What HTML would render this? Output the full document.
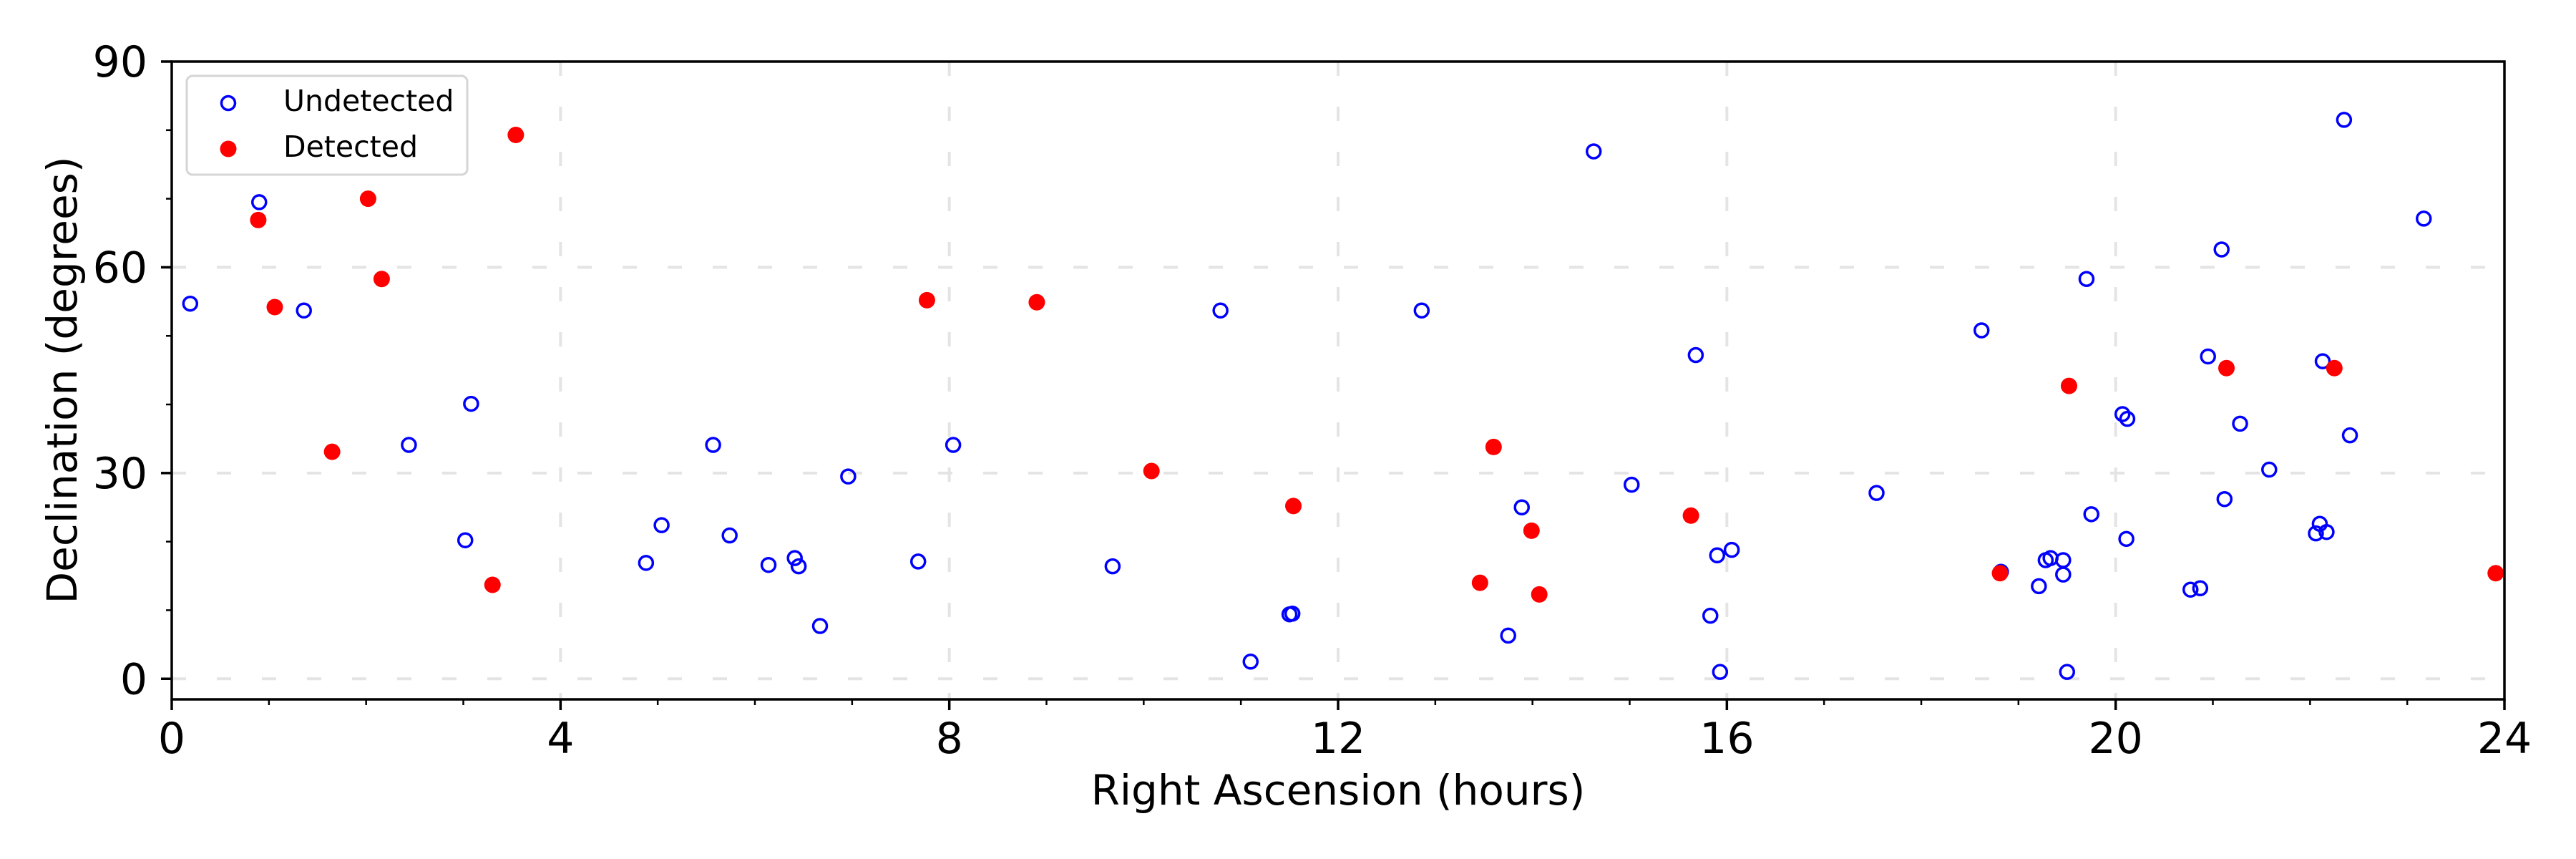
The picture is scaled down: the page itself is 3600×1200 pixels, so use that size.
<!DOCTYPE html>
<html><head><meta charset="utf-8"><style>
html,body{margin:0;padding:0;background:#fff;}
svg{display:block;font-family:"DejaVu Sans","Liberation Sans",sans-serif;}
</style></head><body>
<svg id="chart" width="3600" height="1200" viewBox="0 0 3600 1200" xmlns="http://www.w3.org/2000/svg">
<rect x="0" y="0" width="3600" height="1200" fill="#fff"/>
<g id="grid"></g>
<g id="points"></g>
<g id="axes"></g>
<text x="1870" y="1124" font-size="58" text-anchor="middle">Right Ascension (hours)</text>
<text transform="translate(107,531) rotate(-90)" font-size="58" text-anchor="middle">Declination (degrees)</text>
<g>
<rect x="261" y="106" width="392" height="138" rx="8" fill="#fff" fill-opacity="0.8" stroke="#d5d5d5" stroke-width="3"/>
<circle cx="319" cy="144" r="9.5" fill="none" stroke="#0000ff" stroke-width="3.5"/>
<text x="396" y="155" font-size="41">Undetected</text>
<circle cx="319" cy="208" r="11.5" fill="#ff0000"/>
<text x="396" y="219" font-size="41">Detected</text>
</g>
</svg>
<script>
const undetectedRA = [0.19,0.90,1.36,2.44,3.08,3.02,4.88,5.04,5.57,5.74,6.14,6.41,6.45,6.67,6.96,7.68,8.04,9.68,10.79,11.10,11.50,11.53,12.86,13.75,13.89,14.63,15.02,15.68,15.83,15.90,15.93,16.05,17.54,18.62,18.82,19.21,19.28,19.33,19.46,19.46,19.50,19.70,19.75,20.07,20.12,20.11,20.77,20.87,20.95,21.09,21.12,21.28,21.58,22.06,22.10,22.13,22.17,22.35,22.41,23.17];
const undetectedDec = [54.7,69.5,53.7,34.1,40.1,20.2,16.9,22.4,34.1,20.9,16.6,17.6,16.4,7.7,29.5,17.1,34.1,16.4,53.7,2.5,9.4,9.5,53.7,6.3,25.0,76.9,28.3,47.2,9.2,18.0,1.0,18.8,27.1,50.8,15.6,13.5,17.3,17.6,17.3,15.2,1.0,58.3,24.0,38.6,37.9,20.4,13.0,13.2,47.0,62.6,26.2,37.2,30.5,21.2,22.6,46.3,21.4,81.5,35.5,67.1];
const detectedRA = [0.89,1.06,1.65,2.02,2.16,3.30,3.54,7.77,8.90,10.08,11.54,13.46,13.60,13.99,14.07,15.63,18.81,19.52,21.14,22.25,23.91];
const detectedDec = [66.9,54.2,33.1,70.0,58.3,13.7,79.3,55.2,54.9,30.3,25.2,14.0,33.8,21.6,12.3,23.8,15.4,42.7,45.3,45.3,15.4];
const xMajorTicks = [0,4,8,12,16,20,24];
const xMinorTicks = [1,2,3,5,6,7,9,10,11,13,14,15,17,18,19,21,22,23];
const yMajorTicks = [0,30,60,90];
const yMinorTicks = [10,20,40,50,70,80];

const NS = "http://www.w3.org/2000/svg";
const L=240,R=3500,T=86,B=977;
const xMin=0,xMax=24,yMin=-3,yMax=90;
function xs(v){return L+(v-xMin)/(xMax-xMin)*(R-L);}
function ys(v){return B-(v-yMin)/(yMax-yMin)*(B-T);}
function mk(tag,attrs,parent){const e=document.createElementNS(NS,tag);for(const k in attrs)e.setAttribute(k,attrs[k]);parent.appendChild(e);return e;}

const grid=document.getElementById('grid');
xMajorTicks.forEach(v=>{
  if(v===xMin||v===xMax) return;
  const l=mk('line',{x1:xs(v),x2:xs(v),y1:T,y2:B,stroke:'#e4e4e4','stroke-width':4,'stroke-dasharray':'20 43'},grid);
  
  
});
yMajorTicks.forEach(v=>{
  if(v===yMax) return;
  const l=mk('line',{x1:L,x2:R,y1:ys(v),y2:ys(v),stroke:'#e4e4e4','stroke-width':4,'stroke-dasharray':'20 43'},grid);
  
  
});

const pts=document.getElementById('points');
undetectedRA.forEach((ra,i)=>{
  const c=mk('circle',{cx:xs(ra),cy:ys(undetectedDec[i]),r:9.5,fill:'none',stroke:'#0000ff','stroke-width':3.5},pts);
  
  
});
detectedRA.forEach((ra,i)=>{
  const c=mk('circle',{cx:xs(ra),cy:ys(detectedDec[i]),r:11.5,fill:'#ff0000'},pts);
  
  
});

const ax=document.getElementById('axes');
const frame=mk('rect',{x:L,y:T,width:R-L,height:B-T,fill:'none',stroke:'#000','stroke-width':3.5},ax);


xMajorTicks.forEach(v=>{
  const t=mk('line',{x1:xs(v),x2:xs(v),y1:B,y2:B+15,stroke:'#000','stroke-width':3.5},ax);
  
  
  const tx=mk('text',{x:xs(v),y:1052,'font-size':60,'text-anchor':'middle'},ax);
  tx.textContent=String(v);
  
  
});
xMinorTicks.forEach(v=>{
  const t=mk('line',{x1:xs(v),x2:xs(v),y1:B,y2:B+8,stroke:'#000','stroke-width':2.5},ax);
  
  
});
yMajorTicks.forEach(v=>{
  const t=mk('line',{x1:L-15,x2:L,y1:ys(v),y2:ys(v),stroke:'#000','stroke-width':3.5},ax);
  
  
  const tx=mk('text',{x:206,y:ys(v)+21,'font-size':60,'text-anchor':'end'},ax);
  tx.textContent=String(v);
  
  
});
yMinorTicks.forEach(v=>{
  const t=mk('line',{x1:L-8,x2:L,y1:ys(v),y2:ys(v),stroke:'#000','stroke-width':2.5},ax);
  
  
});
</script>
</body></html>
